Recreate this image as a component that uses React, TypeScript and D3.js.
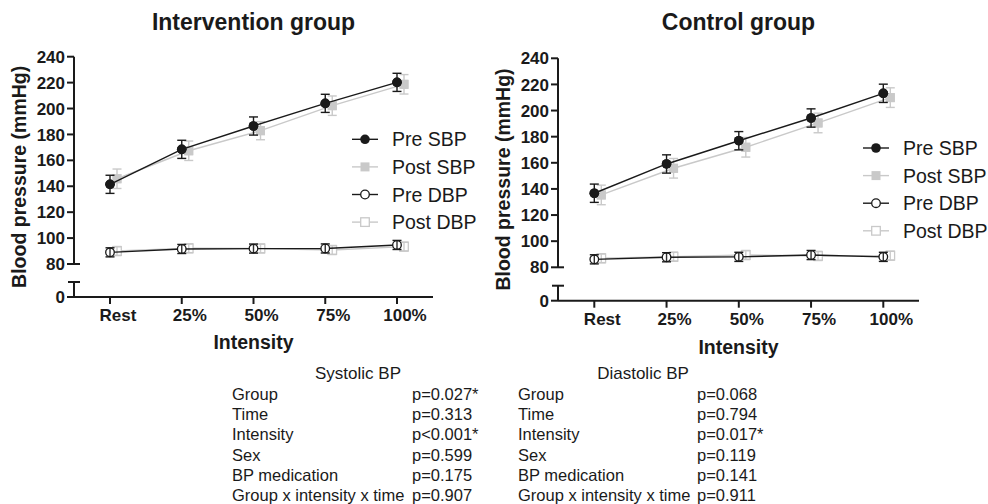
import React from 'react';
import * as d3 from 'd3';

const categories = ["Rest", "25%", "50%", "75%", "100%"];
const yTickValues = [80, 100, 120, 140, 160, 180, 200, 220, 240];
const seriesNames = ["Pre SBP", "Post SBP", "Pre DBP", "Post DBP"];

// Intervention group
const intPreSBP = [141.5, 168.5, 186.5, 204, 220.2];
const intPostSBP = [145.8, 167.4, 182.9, 202.2, 218.7];
const intPreDBP = [89, 91.6, 91.9, 92, 94.7];
const intPostDBP = [90, 92.1, 92, 90.8, 93.4];
const intPreSBPErr = [7, 7, 7, 7, 7];
const intPostSBPErr = [7.5, 7.5, 7, 7.5, 7.5];
const intPreDBPErr = [3.5, 3.5, 3.5, 3.5, 3.5];
const intPostDBPErr = [3.5, 3.5, 3.5, 3.5, 3.5];

// Control group
const ctlPreSBP = [136.7, 159.1, 176.9, 194.3, 213.2];
const ctlPostSBP = [135.4, 155.8, 171.9, 190.5, 209.9];
const ctlPreDBP = [86.1, 87.7, 88, 89.4, 88];
const ctlPostDBP = [86.9, 88.1, 89.4, 88.7, 88.9];
const ctlPreSBPErr = [7, 7, 7, 7, 7];
const ctlPostSBPErr = [7.5, 7.5, 7.5, 7.5, 7.5];
const ctlPreDBPErr = [3.5, 3.5, 3.5, 3.5, 3.5];
const ctlPostDBPErr = [3.5, 3.5, 3.5, 3.5, 3.5];

// Statistics table
const statFactors = ["Group", "Time", "Intensity", "Sex", "BP medication", "Group x intensity x time"];
const systolicP = ["p=0.027*", "p=0.313", "p<0.001*", "p=0.599", "p=0.175", "p=0.907"];
const diastolicP = ["p=0.068", "p=0.794", "p=0.017*", "p=0.119", "p=0.141", "p=0.911"];

const FONT = "'Liberation Sans', Arial, sans-serif";
const BLACK = "#1a1a1a";
const GRAY = "#c9c9c9";

type Series = { values: number[]; errs: number[]; color: string; marker: string; dx: number };

function Marker({ x, y, type, color }: { x: number; y: number; type: string; color: string }) {
  if (type === "filledCircle") return <circle cx={x} cy={y} r={4.8} fill={color} />;
  if (type === "openCircle") return <circle cx={x} cy={y} r={4.3} fill="#fff" stroke={color} strokeWidth={1.3} />;
  if (type === "filledSquare") return <rect x={x - 4.5} y={y - 4.5} width={9} height={9} fill={color} />;
  return <rect x={x - 4.3} y={y - 4.3} width={8.6} height={8.6} fill="#fff" stroke={color} strokeWidth={1.3} />;
}

function Panel(props: {
  title: string; axisX: number; xEnd: number; yTop: number; y80: number; y0: number; capY: number;
  catStart: number; catEnd: number; legendX: number; legendY: number; series: Series[];
  yLabelX: number; xTitleY: number;
}) {
  const { axisX, xEnd, yTop, y80, y0, capY, catStart, catEnd, legendX, legendY, series } = props;
  const x = d3.scalePoint<string>().domain(categories).range([catStart, catEnd]);
  const y = d3.scaleLinear().domain([80, 240]).range([y80, yTop]);
  const plotCenter = (axisX + xEnd) / 2;
  const line = (s: Series) =>
    d3.line<number>().x((_, i) => (x(categories[i]) as number) + s.dx).y((v) => y(v))(s.values) as string;
  const drawOrder = [1, 3, 0, 2];
  return (
    <g>
      <text x={plotCenter} y={30} textAnchor="middle" fontFamily={FONT} fontWeight="bold" fontSize={23} fill={BLACK}>{props.title}</text>
      {/* y axis upper */}
      <line x1={axisX} y1={yTop} x2={axisX} y2={y80} stroke={BLACK} strokeWidth={2} />
      {yTickValues.map((t) => (
        <g key={t}>
          <line x1={axisX - 7} y1={y(t)} x2={t === 80 ? axisX + 6 : axisX} y2={y(t)} stroke={BLACK} strokeWidth={2} />
          <text x={axisX - 9} y={y(t)} dy="0.36em" textAnchor="end" fontFamily={FONT} fontWeight="bold" fontSize={17} fill={BLACK}>{t}</text>
        </g>
      ))}
      {/* y axis lower */}
      <line x1={axisX} y1={capY} x2={axisX} y2={y0} stroke={BLACK} strokeWidth={2} />
      <line x1={axisX - 6} y1={capY} x2={axisX + 6} y2={capY} stroke={BLACK} strokeWidth={2} />
      <line x1={axisX - 7} y1={y0} x2={axisX} y2={y0} stroke={BLACK} strokeWidth={2} />
      <text x={axisX - 9} y={y0} dy="0.36em" textAnchor="end" fontFamily={FONT} fontWeight="bold" fontSize={17} fill={BLACK}>0</text>
      {/* x axis */}
      <line x1={axisX} y1={y0} x2={xEnd} y2={y0} stroke={BLACK} strokeWidth={2} />
      {categories.map((c) => (
        <g key={c}>
          <line x1={x(c)} y1={y0} x2={x(c)} y2={y0 + 7} stroke={BLACK} strokeWidth={2} />
          <text x={(x(c) as number) + 8} y={y0 + 24} textAnchor="middle" fontFamily={FONT} fontWeight="bold" fontSize={17} fill={BLACK}>{c}</text>
        </g>
      ))}
      <text x={plotCenter} y={props.xTitleY} textAnchor="middle" fontFamily={FONT} fontWeight="bold" fontSize={19.5} fill={BLACK}>Intensity</text>
      <text transform={`translate(${props.yLabelX},${(yTop + y0) / 2}) rotate(-90)`} textAnchor="middle" dy="0.36em" fontFamily={FONT} fontWeight="bold" fontSize={19.5} fill={BLACK}>Blood pressure (mmHg)</text>
      {/* series */}
      {drawOrder.map((k) => {
        const s = series[k];
        return (
          <g key={k}>
            <path d={line(s)} fill="none" stroke={s.color} strokeWidth={1.4} />
            {s.values.map((v, i) => {
              const cx = (x(categories[i]) as number) + s.dx;
              const e = s.errs[i];
              return (
                <g key={i}>
                  <Marker x={cx} y={y(v)} type={s.marker} color={s.color} />
                  <line x1={cx} y1={y(v - e)} x2={cx} y2={y(v + e)} stroke={s.color} strokeWidth={1.4}
                    opacity={s.marker.startsWith("open") ? 0.9 : 1} />
                  <line x1={cx - 4.5} y1={y(v - e)} x2={cx + 4.5} y2={y(v - e)} stroke={s.color} strokeWidth={1.4} />
                  <line x1={cx - 4.5} y1={y(v + e)} x2={cx + 4.5} y2={y(v + e)} stroke={s.color} strokeWidth={1.4} />
                  {s.marker.startsWith("filled") && <Marker x={cx} y={y(v)} type={s.marker} color={s.color} />}
                </g>
              );
            })}
          </g>
        );
      })}
      {/* legend */}
      {series.map((s, i) => {
        const ly = legendY + i * 27.6;
        return (
          <g key={i}>
            <line x1={legendX} y1={ly} x2={legendX + 26} y2={ly} stroke={s.color} strokeWidth={1.4} />
            <Marker x={legendX + 13} y={ly} type={s.marker} color={s.color} />
            <text x={legendX + 40} y={ly} dy="0.36em" fontFamily={FONT} fontSize={19.5} fill={BLACK}>{seriesNames[i]}</text>
          </g>
        );
      })}
    </g>
  );
}

function StatsTable({ title, labelX, pX, titleX, values }: { title: string; labelX: number; pX: number; titleX: number; values: string[] }) {
  const rowY0 = 400;
  const step = 20.2;
  return (
    <g fontFamily={FONT} fontSize={16.5} fill={BLACK}>
      <text x={titleX} y={rowY0 - step - 1} textAnchor="middle" fontSize={17}>{title}</text>
      {statFactors.map((f, i) => (
        <g key={f}>
          <text x={labelX} y={rowY0 + i * step}>{f}</text>
          <text x={pX} y={rowY0 + i * step}>{values[i]}</text>
        </g>
      ))}
    </g>
  );
}

export default function App() {
  const intSeries: Series[] = [
    { values: intPreSBP, errs: intPreSBPErr, color: BLACK, marker: "filledCircle", dx: 0 },
    { values: intPostSBP, errs: intPostSBPErr, color: GRAY, marker: "filledSquare", dx: 7 },
    { values: intPreDBP, errs: intPreDBPErr, color: BLACK, marker: "openCircle", dx: 0 },
    { values: intPostDBP, errs: intPostDBPErr, color: GRAY, marker: "openSquare", dx: 7 },
  ];
  const ctlSeries: Series[] = [
    { values: ctlPreSBP, errs: ctlPreSBPErr, color: BLACK, marker: "filledCircle", dx: 0 },
    { values: ctlPostSBP, errs: ctlPostSBPErr, color: GRAY, marker: "filledSquare", dx: 7 },
    { values: ctlPreDBP, errs: ctlPreDBPErr, color: BLACK, marker: "openCircle", dx: 0 },
    { values: ctlPostDBP, errs: ctlPostDBPErr, color: GRAY, marker: "openSquare", dx: 7 },
  ];
  return (
    <svg width={988} height={504} style={{ position: 'absolute', left: 0, top: 0, background: '#fff' }}>
      <rect width={988} height={504} fill="#fff" />
      <Panel title="Intervention group" axisX={74} xEnd={433} yTop={56.7} y80={264} y0={297} capY={282}
        catStart={110} catEnd={397} legendX={352} legendY={139.3} series={intSeries} yLabelX={19} xTitleY={349} />
      <Panel title="Control group" axisX={558} xEnd={919} yTop={58.3} y80={267.3} y0={300.7} capY={285.7}
        catStart={594.3} catEnd={883.3} legendX={863} legendY={148} series={ctlSeries} yLabelX={503} xTitleY={354} />
      <StatsTable title="Systolic BP" labelX={232} pX={412} titleX={358} values={systolicP} />
      <StatsTable title="Diastolic BP" labelX={518} pX={697} titleX={643} values={diastolicP} />
    </svg>
  );
}
